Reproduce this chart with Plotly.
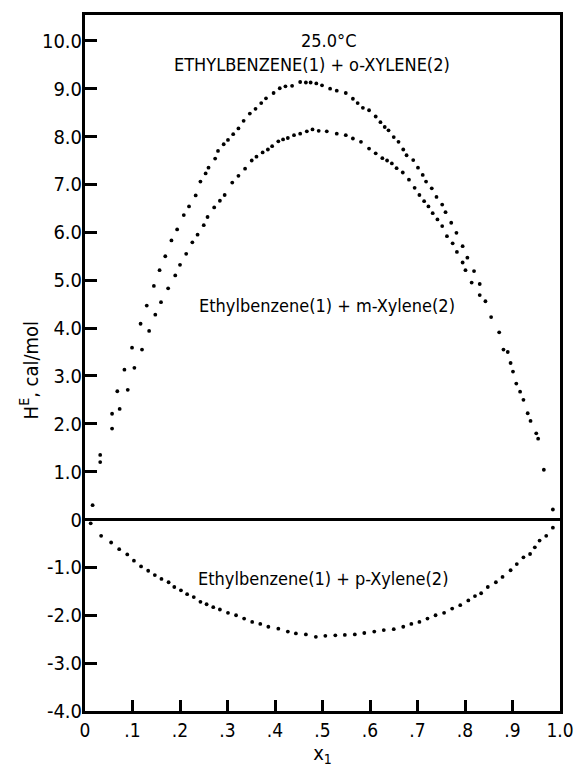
import plotly.graph_objects as go

# Ethylbenzene(1) + o-Xylene(2)
o_x = [0.016, 0.032, 0.057, 0.068, 0.083, 0.099, 0.117, 0.130, 0.145, 0.157, 0.169, 0.182, 0.194, 0.208,
       0.219, 0.233, 0.243, 0.254, 0.260, 0.274, 0.280, 0.292, 0.301, 0.312, 0.323, 0.334, 0.347, 0.359,
       0.371, 0.381, 0.397, 0.410, 0.422, 0.436, 0.453, 0.465, 0.475, 0.487, 0.499, 0.516, 0.530, 0.549,
       0.564, 0.574, 0.585, 0.598, 0.612, 0.622, 0.631, 0.639, 0.650, 0.660, 0.670, 0.677, 0.691, 0.701,
       0.711, 0.718, 0.730, 0.740, 0.752, 0.759, 0.771, 0.782, 0.795, 0.805, 0.819, 0.831, 0.843, 0.855,
       0.881, 0.896, 0.908, 0.923, 0.938, 0.954, 0.985]
o_y = [0.30, 1.35, 2.21, 2.68, 3.13, 3.59, 4.09, 4.47, 4.88, 5.21, 5.50, 5.83, 6.06, 6.36,
       6.54, 6.77, 7.06, 7.23, 7.35, 7.54, 7.70, 7.84, 7.93, 8.05, 8.17, 8.33, 8.48, 8.58,
       8.70, 8.80, 8.91, 9.01, 9.05, 9.06, 9.14, 9.13, 9.13, 9.11, 9.07, 9.00, 8.96, 8.91,
       8.79, 8.70, 8.60, 8.55, 8.42, 8.30, 8.20, 8.13, 7.99, 7.89, 7.73, 7.61, 7.51, 7.35,
       7.20, 7.06, 6.92, 6.74, 6.58, 6.42, 6.20, 5.99, 5.71, 5.47, 5.19, 4.92, 4.56, 4.23,
       3.55, 3.27, 2.84, 2.50, 2.06, 1.69, 0.21]

# Ethylbenzene(1) + m-Xylene(2)
m_x = [0.032, 0.057, 0.073, 0.090, 0.104, 0.120, 0.135, 0.148, 0.160, 0.175, 0.190, 0.200, 0.213, 0.226,
       0.237, 0.250, 0.258, 0.272, 0.284, 0.294, 0.310, 0.323, 0.337, 0.351, 0.361, 0.374, 0.385, 0.394,
       0.407, 0.417, 0.427, 0.440, 0.453, 0.467, 0.479, 0.492, 0.509, 0.530, 0.549, 0.564, 0.581, 0.598,
       0.612, 0.626, 0.636, 0.646, 0.656, 0.669, 0.682, 0.694, 0.704, 0.714, 0.723, 0.732, 0.742, 0.752,
       0.762, 0.774, 0.783, 0.795, 0.801, 0.814, 0.831, 0.872, 0.890, 0.901, 0.916, 0.932, 0.950, 0.966]
m_y = [1.20, 1.90, 2.31, 2.71, 3.17, 3.55, 3.94, 4.28, 4.54, 4.83, 5.10, 5.32, 5.55, 5.79,
       5.95, 6.15, 6.32, 6.52, 6.66, 6.78, 7.04, 7.18, 7.33, 7.50, 7.58, 7.67, 7.73, 7.80,
       7.90, 7.94, 7.97, 8.03, 8.06, 8.11, 8.15, 8.12, 8.11, 8.06, 8.03, 7.96, 7.89, 7.75,
       7.65, 7.55, 7.50, 7.44, 7.34, 7.25, 7.10, 6.93, 6.78, 6.65, 6.54, 6.40, 6.27, 6.13,
       5.92, 5.77, 5.59, 5.37, 5.21, 4.95, 4.69, 3.91, 3.50, 3.09, 2.67, 2.22, 1.80, 1.04]

# Ethylbenzene(1) + p-Xylene(2)
p_x = [0.012, 0.034, 0.055, 0.072, 0.089, 0.103, 0.118, 0.133, 0.147, 0.161, 0.176, 0.188, 0.202, 0.215,
       0.229, 0.243, 0.256, 0.270, 0.284, 0.301, 0.318, 0.335, 0.352, 0.369, 0.386, 0.407, 0.427, 0.444,
       0.465, 0.486, 0.506, 0.527, 0.547, 0.568, 0.588, 0.609, 0.629, 0.650, 0.670, 0.687, 0.704, 0.721,
       0.738, 0.756, 0.773, 0.790, 0.807, 0.821, 0.834, 0.848, 0.865, 0.879, 0.896, 0.909, 0.923, 0.937,
       0.947, 0.957, 0.971, 0.985]
p_y = [-0.08, -0.34, -0.48, -0.62, -0.73, -0.86, -0.98, -1.07, -1.16, -1.24, -1.31, -1.41, -1.48, -1.56,
       -1.62, -1.72, -1.77, -1.83, -1.88, -1.95, -2.00, -2.07, -2.14, -2.18, -2.24, -2.28, -2.34, -2.38,
       -2.40, -2.45, -2.43, -2.42, -2.41, -2.40, -2.37, -2.34, -2.31, -2.29, -2.24, -2.18, -2.14, -2.07,
       -2.00, -1.95, -1.86, -1.79, -1.69, -1.60, -1.54, -1.41, -1.31, -1.20, -1.06, -0.93, -0.79, -0.72,
       -0.58, -0.44, -0.34, -0.17]

x_tick_vals = [0, 0.1, 0.2, 0.3, 0.4, 0.5, 0.6, 0.7, 0.8, 0.9, 1.0]
x_tick_text = ["0", ".1", ".2", ".3", ".4", ".5", ".6", ".7", ".8", ".9", "1.0"]
y_tick_vals = [10, 9, 8, 7, 6, 5, 4, 3, 2, 1, 0, -1, -2, -3, -4]
y_tick_text = ["10.0", "9.0", "8.0", "7.0", "6.0", "5.0", "4.0", "3.0", "2.0", "1.0", "0",
               "-1.0", "-2.0", "-3.0", "-4.0"]

FONT = "DejaVu Sans Condensed, sans-serif"

fig = go.Figure()
for xs, ys in [(o_x, o_y), (m_x, m_y), (p_x, p_y)]:
    fig.add_trace(go.Scatter(x=xs, y=ys, mode="markers",
                             marker=dict(color="black", size=3.8), showlegend=False,
                             hoverinfo="skip"))

ann_font = dict(family=FONT, size=18, color="black")
fig.add_annotation(x=0.513, y=9.77, yanchor="bottom", text="25.0°C", showarrow=False,
                   font=ann_font, borderpad=0)
fig.add_annotation(x=0.478, y=9.74, yanchor="top", text="ETHYLBENZENE(1) + o-XYLENE(2)",
                   showarrow=False, font=ann_font, borderpad=0)
fig.add_annotation(x=0.509, y=4.47, text="Ethylbenzene(1) + m-Xylene(2)", showarrow=False, font=ann_font)
fig.add_annotation(x=0.501, y=-1.24, text="Ethylbenzene(1) + p-Xylene(2)", showarrow=False, font=ann_font)
# y-axis title placed close to the tick labels, as in the reference
fig.add_annotation(xref="paper", yref="paper", x=-0.117, y=0.49, xanchor="center", yanchor="middle",
                   textangle=-90, text="H<sup>E</sup>, cal/mol", showarrow=False,
                   font=dict(family=FONT, size=20, color="black"))

fig.update_layout(
    width=586, height=769,
    margin=dict(l=85, r=13, t=13, b=55),
    paper_bgcolor="white", plot_bgcolor="white",
    font=dict(family=FONT, size=18, color="black"),
)
fig.update_xaxes(range=[0, 1.0], tickvals=x_tick_vals, ticktext=x_tick_text,
                 ticks="inside", ticklen=11, tickwidth=2.5, tickcolor="black",
                 showline=True, linecolor="black", linewidth=3, mirror=True,
                 showgrid=False, zeroline=False,
                 tickfont=dict(family=FONT, size=19),
                 title=dict(text="x<sub>1</sub>", font=dict(family=FONT, size=20), standoff=2))
fig.update_yaxes(range=[-4, 10.54], tickvals=y_tick_vals, ticktext=y_tick_text,
                 ticks="inside", ticklen=12, tickwidth=3, tickcolor="black",
                 showline=True, linecolor="black", linewidth=3, mirror=True,
                 showgrid=False, zeroline=True, zerolinecolor="black", zerolinewidth=2.5,
                 tickfont=dict(family=FONT, size=20), ticklabelstandoff=-4)

fig.write_html("out.html")
